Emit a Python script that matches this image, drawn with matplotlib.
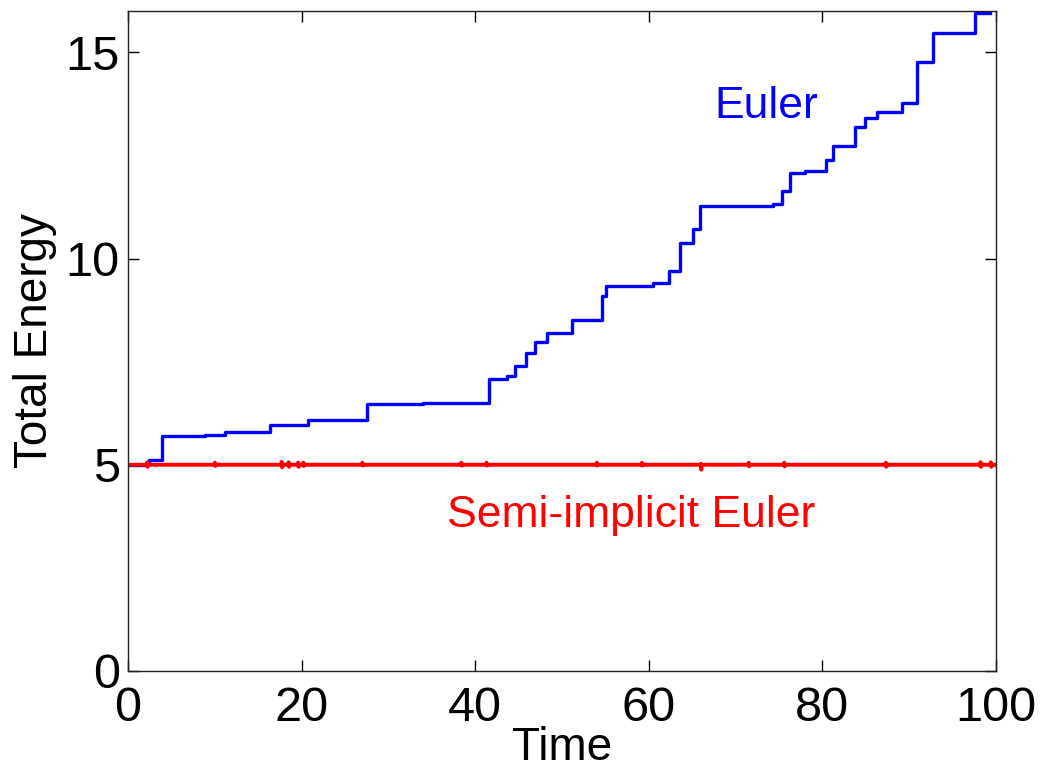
import matplotlib
matplotlib.use("Agg")
import matplotlib.pyplot as plt

# Euler (explicit) total energy: step changes (time, energy)
euler_t = [0.0, 2.4, 3.9, 8.9, 11.2, 16.4, 20.7, 27.5, 34.0, 41.6, 43.7, 44.6, 45.9,
           46.9, 48.3, 51.2, 54.6, 55.1, 60.5, 62.3, 63.6, 65.1, 65.9, 74.3,
           75.3, 76.3, 78.0, 80.4, 81.2, 83.8, 84.9, 86.3, 89.2, 90.9, 92.7,
           97.6, 99.3]
euler_e = [5.0, 5.12, 5.70, 5.73, 5.79, 5.96, 6.08, 6.47, 6.50, 7.08, 7.15, 7.39, 7.71,
           7.98, 8.19, 8.51, 9.10, 9.33, 9.41, 9.70, 10.38, 10.72, 11.27, 11.32,
           11.64, 12.07, 12.12, 12.39, 12.73, 13.19, 13.41, 13.55, 13.77, 14.76, 15.47,
           15.95, 15.95]

# Semi-implicit Euler total energy (nearly constant, tiny spikes)
semi_t = [0.0,
          2.2, 2.2, 2.25, 2.3,
          10.0, 10.0, 10.05, 10.1,
          17.7, 17.7, 17.75, 17.8,
          18.5, 18.5, 18.55, 18.6,
          19.6, 19.6, 19.65, 19.7,
          20.2, 20.2, 20.25, 20.3,
          27.0, 27.0, 27.05, 27.1,
          38.4, 38.4, 38.45, 38.5,
          41.3, 41.3, 41.35, 41.4,
          54.0, 54.0, 54.05, 54.1,
          59.2, 59.2, 59.25, 59.3,
          66.0, 66.0, 66.05, 66.1,
          71.5, 71.5, 71.55, 71.6,
          75.6, 75.6, 75.65, 75.7,
          87.3, 87.3, 87.35, 87.4,
          98.2, 98.2, 98.25, 98.3,
          99.4, 99.4, 99.45, 99.5,
          100.0]
semi_e = [5.0,
          5.0, 5.06, 4.95, 5.0,
          5.0, 5.05, 4.97, 5.0,
          5.0, 5.07, 4.94, 5.0,
          5.0, 5.06, 4.95, 5.0,
          5.0, 5.05, 4.95, 5.0,
          5.0, 5.05, 4.97, 5.0,
          5.0, 5.05, 4.98, 5.0,
          5.0, 5.05, 4.98, 5.0,
          5.0, 5.05, 4.98, 5.0,
          5.0, 5.05, 4.98, 5.0,
          5.0, 5.05, 4.98, 5.0,
          5.0, 5.02, 4.88, 5.0,
          5.0, 5.05, 4.96, 5.0,
          5.0, 5.05, 4.96, 5.0,
          5.0, 5.05, 4.95, 5.0,
          5.0, 5.06, 4.95, 5.0,
          5.0, 5.06, 4.95, 5.0,
          5.0]

x_ticks = [0, 20, 40, 60, 80, 100]
y_ticks = [0, 5, 10, 15]

plt.rcParams['font.family'] = ['Liberation Sans', 'DejaVu Sans']

fig = plt.figure(figsize=(10.41, 7.70), dpi=100)
ax = fig.add_axes([128/1041, 99/770, 868/1041, 660/770])

ax.step(euler_t, euler_e, where='post', color=(0, 0, 1), lw=2.4)
ax.plot(semi_t, semi_e, color=(1, 0, 0), lw=2.8)

ax.set_xlim(0, 100)
ax.set_ylim(0, 16)
ax.set_xticks(x_ticks)
ax.set_yticks(y_ticks)
ax.tick_params(direction='in', length=8, width=1, top=True, right=True,
               labelsize=35, pad=6)
ax.tick_params(axis='x', pad=11)
for s in ax.spines.values():
    s.set_linewidth(1.0)
    s.set_color('#222222')

ax.set_xlabel('Time', fontsize=33, labelpad=-4)
ax.set_ylabel('Total Energy', fontsize=33, labelpad=6)

ax.text(73.5, 13.4, 'Euler', color=(0, 0, 1), fontsize=32, ha='center', va='baseline')
ax.text(58.0, 3.49, 'Semi-implicit Euler', color=(1, 0, 0), fontsize=32,
        ha='center', va='baseline')

fig.savefig('out.png', dpi=100)
